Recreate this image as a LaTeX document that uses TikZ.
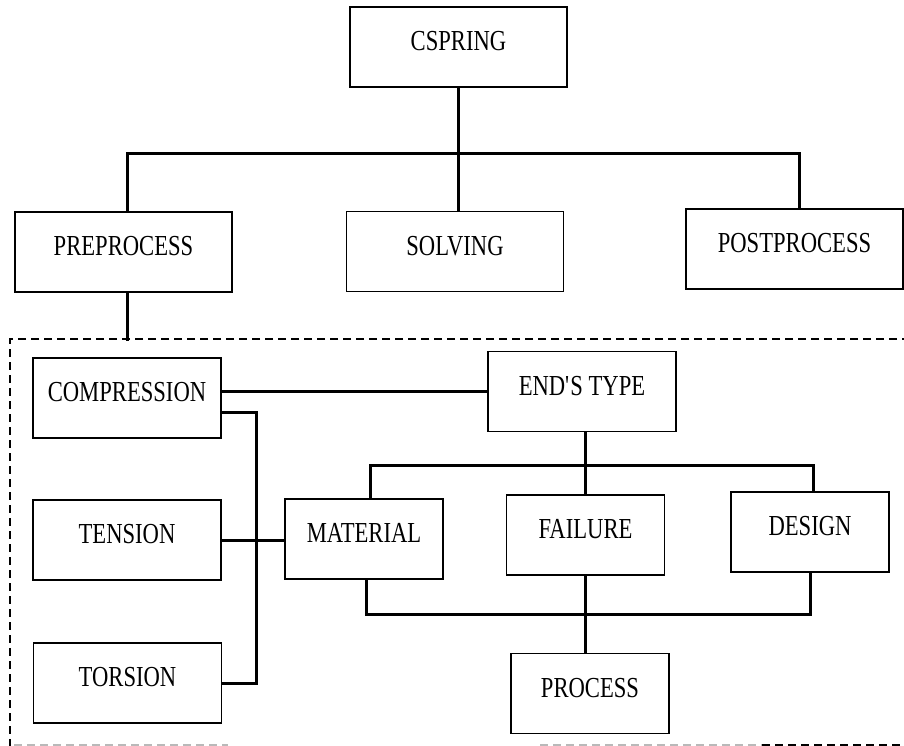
\documentclass[tikz,border=0pt]{standalone}
\usepackage{fontspec}
\usepackage{tikz}
\usetikzlibrary{calc}
\newfontfamily\boxfont[FakeStretch=0.78]{Liberation Serif}
\tikzset{block/.style={draw, line width=1.8pt, minimum height=80pt, inner sep=0pt,
                       text height=19pt, text depth=12pt,
                       font=\boxfont\fontsize{29}{30}\selectfont},
         wideblock/.style={block, minimum width=217pt},
         midblock/.style={block, minimum width=188pt},
         smallblock/.style={block, minimum width=158pt},
         link/.style={draw, line width=3pt, line cap=rect},
         frame/.style={draw, line width=2.7pt, dash pattern=on 8pt off 5pt}}

\begin{document}
\begin{tikzpicture}[x=1pt, y=-1pt]      % one unit = one pixel, y grows downwards
    \path[use as bounding box] (0, 0) rectangle (904, 746);

    % top level
    \node[wideblock] at (458.5, 47) (cspring) {CSPRING};
    \node[wideblock] at (123.5, 252) (pre) {PREPROCESS};
    \node[wideblock] at (455, 251.5) (solving) {SOLVING};
    \node[wideblock] at (794.5, 249) (post) {POSTPROCESS};
    \coordinate (topbus) at (459, 154);

    \draw[link] (cspring.south) -- (cspring.south |- solving.north);
    \draw[link] ([xshift=4pt]pre.north) |- (topbus) -| ([xshift=5pt]post.north);

    % preprocess group
    \coordinate (fnw) at (10, 339);
    \draw[frame] (910, 339) -- (fnw) -- (10, 750);
    \draw[frame, gray!55] (14, 745) -- (228, 745);
    \draw[frame, gray!55] (540, 745) -- (762, 745);
    \draw[frame] (762, 745) -- (910, 745);
    \draw[link] ([xshift=4pt]pre.south) -- ([xshift=4pt]pre.south |- fnw);

    \node[midblock] at (127, 398) (compression) {COMPRESSION};
    \node[midblock] at (127, 540) (tension) {TENSION};
    \node[midblock] at (127.5, 683) (torsion) {TORSION};
    \node[midblock] at (582, 391.5) (ends) {END\textquotesingle S TYPE};

    \node[smallblock] at (364, 539) (material) {MATERIAL};
    \node[smallblock] at (585.5, 535) (failure) {FAILURE};
    \node[smallblock] at (810, 532) (design) {DESIGN};
    \node[smallblock] at (590, 693.5) (process) {PROCESS};
    \coordinate (endsbus) at (586, 465);
    \coordinate (lowbus) at (588, 614);

    \draw[link] (ends.west) -- (ends.west -| compression.east);
    \draw[link] ([yshift=-14pt]compression.east) -| ([xshift=34pt]torsion.east) -- (torsion.east);
    \draw[link] (tension.east) -- (tension.east -| material.west);

    \draw[link] (failure.north) -- (failure.north |- ends.south);
    \draw[link] ([xshift=6pt]material.north) |- (endsbus) -| ([xshift=3pt]design.north);
    \draw[link] ([xshift=2pt]material.south) |- (lowbus) -| (design.south);
    \draw[link] (failure.south) -- (failure.south |- process.north);
\end{tikzpicture}
\end{document}
